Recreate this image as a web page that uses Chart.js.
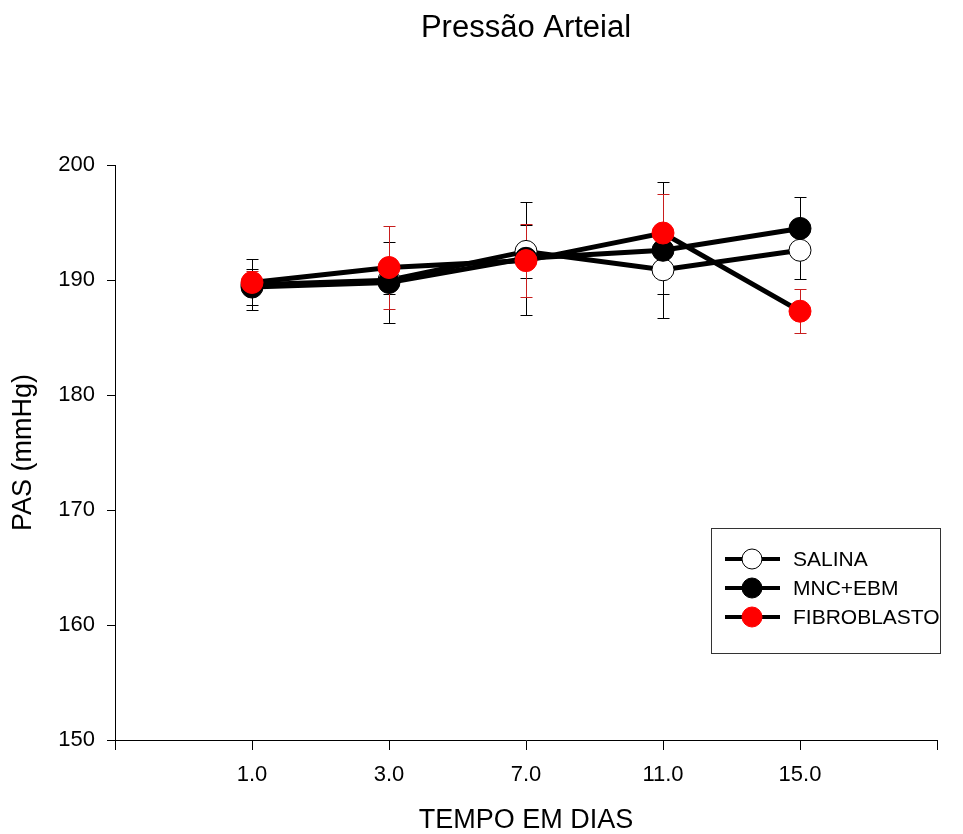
<!DOCTYPE html>
<html>
<head>
<meta charset="utf-8">
<script src="https://cdn.jsdelivr.net/npm/chart.js@4.4.1/dist/chart.umd.min.js"></script>
<style>
  html, body { margin: 0; padding: 0; background: #fff; }
  #wrap { width: 963px; height: 834px; }
</style>
</head>
<body>
<div id="wrap"><canvas id="pasChart" width="963" height="834"></canvas></div>
<script>
// Days of measurement and group means / standard errors (mmHg)
const days = ['1.0', '3.0', '7.0', '11.0', '15.0'];

const salinaMean = [189.6, 190.0, 192.5, 190.9, 192.6];
const salinaErr  = [2.2, 1.2, 2.3, 2.1, 2.5];

const mncMean = [189.4, 189.8, 191.9, 192.6, 194.5];
const mncErr  = [1.6, 3.5, 4.9, 5.9, 2.7];

const fibroMean = [189.8, 191.1, 191.7, 194.1, 187.3];
const fibroErr  = [1.0, 3.6, 3.2, 3.4, 1.9];

const yTicks = [150, 160, 170, 180, 190, 200];

function toPoints(values) {
    return values.map((v, i) => ({ x: i + 1, y: v }));
}

// vertical error bars with caps, drawn under the lines
const errorBars = {
    id: 'errorBars',
    beforeDatasetsDraw(chart) {
        const ctx = chart.ctx;
        const xs = chart.scales.x, ys = chart.scales.y;
        chart.data.datasets.forEach((ds, di) => {
            if (!chart.isDatasetVisible(di)) return;
            ctx.save();
            ctx.strokeStyle = ds.errColor;
            ctx.lineWidth = 1;
            ds.data.forEach((p, i) => {
                const e = ds.errors[i];
                const x = Math.round(xs.getPixelForValue(p.x)) + 0.5;
                const yTop = Math.round(ys.getPixelForValue(p.y + e)) + 0.5;
                const yBot = Math.round(ys.getPixelForValue(p.y - e)) + 0.5;
                ctx.beginPath();
                ctx.moveTo(x, yTop);
                ctx.lineTo(x, yBot);
                ctx.moveTo(x - 6, yTop);
                ctx.lineTo(x + 6, yTop);
                ctx.moveTo(x - 6, yBot);
                ctx.lineTo(x + 6, yBot);
                ctx.stroke();
            });
            ctx.restore();
        });
    }
};

// boxed legend sitting in the lower right of the plot
const boxLegend = {
    id: 'boxLegend',
    afterDraw(chart) {
        const ctx = chart.ctx;
        const area = chart.chartArea;
        const left = area.right - 226, top = area.bottom - 212;
        const w = 229, h = 125;
        ctx.save();
        ctx.strokeStyle = '#333';
        ctx.lineWidth = 1;
        ctx.strokeRect(left + 0.5, top + 0.5, w, h);
        ctx.font = '21px "Liberation Sans", Arial, sans-serif';
        ctx.textBaseline = 'middle';
        chart.data.datasets.forEach((ds, i) => {
            const y = top + 31 + i * 29;
            ctx.strokeStyle = '#000';
            ctx.lineWidth = 4;
            ctx.beginPath();
            ctx.moveTo(left + 14, y);
            ctx.lineTo(left + 69, y);
            ctx.stroke();
            ctx.beginPath();
            ctx.arc(left + 41, y, 10, 0, Math.PI * 2);
            ctx.fillStyle = ds.pointBackgroundColor;
            ctx.fill();
            ctx.lineWidth = 1;
            ctx.strokeStyle = ds.pointBorderColor;
            ctx.stroke();
            ctx.fillStyle = '#000';
            ctx.fillText(ds.label, left + 82, y + 1);
        });
        ctx.restore();
    }
};

const font = '"Liberation Sans", Arial, sans-serif';

new Chart(document.getElementById('pasChart'), {
    type: 'line',
    data: {
        datasets: [
            {
                label: 'SALINA',
                data: toPoints(salinaMean),
                errors: salinaErr,
                errColor: '#000',
                borderColor: '#000',
                borderWidth: 5,
                pointRadius: 11,
                pointBackgroundColor: '#fff',
                pointBorderColor: '#000',
                pointBorderWidth: 1,
                order: 3
            },
            {
                label: 'MNC+EBM',
                data: toPoints(mncMean),
                errors: mncErr,
                errColor: '#000',
                borderColor: '#000',
                borderWidth: 5,
                pointRadius: 11,
                pointBackgroundColor: '#000',
                pointBorderColor: '#000',
                pointBorderWidth: 1,
                order: 2
            },
            {
                label: 'FIBROBLASTO',
                data: toPoints(fibroMean),
                errors: fibroErr,
                errColor: '#c81e1e',
                borderColor: '#000',
                borderWidth: 5,
                pointRadius: 11,
                pointBackgroundColor: '#ff0000',
                pointBorderColor: '#ff0000',
                pointBorderWidth: 1,
                order: 1
            }
        ]
    },
    options: {
        responsive: false,
        animation: false,
        events: [],
        layout: { padding: { left: 0, right: 26, top: 0, bottom: 0 } },
        elements: { line: { tension: 0 } },
        plugins: {
            legend: { display: false },
            tooltip: { enabled: false },
            title: {
                display: true,
                fullSize: false,
                text: 'Pressão Arteial',
                color: '#000',
                font: { family: font, size: 31, weight: 'normal', lineHeight: 1.2 },
                padding: { top: 10, bottom: 118 }
            }
        },
        scales: {
            x: {
                type: 'linear',
                min: 0,
                max: 6,
                afterBuildTicks(scale) {
                    scale.ticks = [0, 1, 2, 3, 4, 5, 6].map(v => ({ value: v }));
                },
                afterFit(scale) {
                    scale.height = 94;
                },
                ticks: {
                    color: '#000',
                    font: { family: font, size: 22 },
                    padding: 12,
                    maxRotation: 0,
                    callback: (v) => days[v - 1] || ''
                },
                grid: { drawOnChartArea: false, drawTicks: true, tickLength: 10, color: '#000' },
                border: { color: '#000', width: 1 },
                title: {
                    display: true,
                    text: 'TEMPO EM DIAS',
                    color: '#000',
                    font: { family: font, size: 27, lineHeight: 1 },
                    padding: { top: 0, bottom: 0 }
                }
            },
            y: {
                min: 150,
                max: 200,
                afterBuildTicks(scale) {
                    scale.ticks = yTicks.map(v => ({ value: v }));
                },
                afterFit(scale) {
                    scale.width = 115;
                },
                ticks: {
                    color: '#000',
                    font: { family: font, size: 22 },
                    padding: 12
                },
                grid: { drawOnChartArea: false, drawTicks: true, tickLength: 8, color: '#000' },
                border: { color: '#000', width: 1 },
                title: {
                    display: true,
                    text: 'PAS (mmHg)',
                    color: '#000',
                    font: { family: font, size: 27, lineHeight: 1 },
                    padding: { top: 10, bottom: 0 }
                }
            }
        }
    },
    plugins: [errorBars, boxLegend]
});
</script>
</body>
</html>
